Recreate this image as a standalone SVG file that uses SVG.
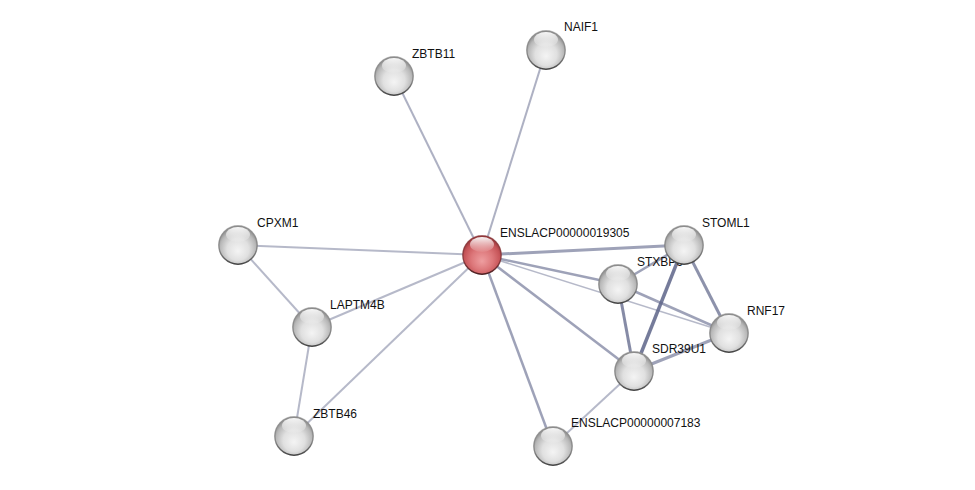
<svg xmlns="http://www.w3.org/2000/svg" width="975" height="490" viewBox="0 0 975 490">
<defs>
<radialGradient id="gBase" cx="50%" cy="58%" r="56%" fx="50%" fy="66%">
<stop offset="0" stop-color="#f4f4f4"/>
<stop offset="0.5" stop-color="#e0e0e0"/>
<stop offset="0.82" stop-color="#b8b8b8"/>
<stop offset="1" stop-color="#858585"/>
</radialGradient>
<radialGradient id="rBase" cx="50%" cy="58%" r="56%" fx="50%" fy="66%">
<stop offset="0" stop-color="#ee9ea0"/>
<stop offset="0.5" stop-color="#dc7679"/>
<stop offset="0.82" stop-color="#c65458"/>
<stop offset="1" stop-color="#923538"/>
</radialGradient>
<linearGradient id="hl" x1="0" y1="0" x2="0" y2="1">
<stop offset="0" stop-color="#fff" stop-opacity="0.95"/>
<stop offset="1" stop-color="#fff" stop-opacity="0.05"/>
</linearGradient>
<linearGradient id="rim" x1="0" y1="0" x2="0" y2="1">
<stop offset="0" stop-color="#9a9a9a" stop-opacity="0.5"/>
<stop offset="0.6" stop-color="#6a6a6a" stop-opacity="0.6"/>
<stop offset="1" stop-color="#333" stop-opacity="0.9"/>
</linearGradient>
<linearGradient id="rrim" x1="0" y1="0" x2="0" y2="1">
<stop offset="0" stop-color="#8a3a3d" stop-opacity="0.5"/>
<stop offset="0.6" stop-color="#6a2a2d" stop-opacity="0.6"/>
<stop offset="1" stop-color="#3a1416" stop-opacity="0.9"/>
</linearGradient>
<g id="ball">
<circle r="19.5" fill="url(#gBase)"/>
<circle r="19.2" fill="none" stroke="url(#rim)" stroke-width="1.4"/>
<ellipse cx="0" cy="-10.5" rx="12" ry="7.5" fill="url(#hl)"/>
</g>
<g id="redball">
<circle r="19.5" fill="url(#rBase)"/>
<circle r="19.2" fill="none" stroke="url(#rrim)" stroke-width="1.4"/>
<ellipse cx="0" cy="-10.5" rx="12" ry="7.5" fill="url(#hl)"/>
</g>
</defs>
<style>
.e{stroke:#5d6488;fill:none;stroke-linecap:butt}
.lbl{font-family:"Liberation Sans",Arial,sans-serif;font-size:12px;fill:#111}
</style>
<rect width="975" height="490" fill="#fff"/>
<g id="connectors">
<line class="e" x1="482" y1="255" x2="546" y2="50" stroke-width="2" stroke-opacity="0.5"/>
<line class="e" x1="482" y1="255" x2="394" y2="76" stroke-width="2" stroke-opacity="0.5"/>
<line class="e" x1="482" y1="255" x2="238" y2="245" stroke-width="2" stroke-opacity="0.45"/>
<line class="e" x1="482" y1="255" x2="312" y2="327" stroke-width="2" stroke-opacity="0.45"/>
<line class="e" x1="482" y1="255" x2="294" y2="436" stroke-width="2" stroke-opacity="0.45"/>
<line class="e" x1="482" y1="255" x2="553" y2="446" stroke-width="2.5" stroke-opacity="0.6"/>
<line class="e" x1="482" y1="255" x2="634" y2="371" stroke-width="2.5" stroke-opacity="0.6"/>
<line class="e" x1="482" y1="255" x2="684" y2="245" stroke-width="3" stroke-opacity="0.6"/>
<line class="e" x1="482" y1="255" x2="618" y2="284" stroke-width="2.5" stroke-opacity="0.6"/>
<line class="e" x1="482" y1="255" x2="729" y2="333" stroke-width="1.5" stroke-opacity="0.45"/>
<line class="e" x1="238" y1="245" x2="312" y2="327" stroke-width="2" stroke-opacity="0.45"/>
<line class="e" x1="312" y1="327" x2="294" y2="436" stroke-width="2" stroke-opacity="0.45"/>
<line class="e" x1="684" y1="245" x2="618" y2="284" stroke-width="2.5" stroke-opacity="0.6"/>
<line class="e" x1="684" y1="245" x2="634" y2="371" stroke-width="3.5" stroke-opacity="0.85"/>
<line class="e" x1="684" y1="245" x2="729" y2="333" stroke-width="3" stroke-opacity="0.7"/>
<line class="e" x1="618" y1="284" x2="634" y2="371" stroke-width="3" stroke-opacity="0.75"/>
<line class="e" x1="618" y1="284" x2="729" y2="333" stroke-width="2.5" stroke-opacity="0.6"/>
<line class="e" x1="634" y1="371" x2="729" y2="333" stroke-width="3" stroke-opacity="0.6"/>
<line class="e" x1="634" y1="371" x2="553" y2="446" stroke-width="2" stroke-opacity="0.45"/>
</g>
<g id="node-NAIF1"><use href="#ball" x="546" y="50"/><text class="lbl" x="564" y="31">NAIF1</text></g>
<g id="node-ZBTB11"><use href="#ball" x="394" y="76"/><text class="lbl" x="412" y="58">ZBTB11</text></g>
<g id="node-CPXM1"><use href="#ball" x="238" y="245"/><text class="lbl" x="257" y="227">CPXM1</text></g>
<g id="node-LAPTM4B"><use href="#ball" x="312" y="327"/><text class="lbl" x="330" y="309">LAPTM4B</text></g>
<g id="node-ZBTB46"><use href="#ball" x="294" y="436"/><text class="lbl" x="313" y="418">ZBTB46</text></g>
<g id="node-ENSLACP00000007183"><use href="#ball" x="553" y="446"/><text class="lbl" x="571" y="427">ENSLACP00000007183</text></g>
<g id="node-SDR39U1"><use href="#ball" x="634" y="371"/><text class="lbl" x="652" y="353">SDR39U1</text></g>
<g id="node-RNF17"><use href="#ball" x="729" y="333"/><text class="lbl" x="747" y="315">RNF17</text></g>
<g id="node-STXBP6"><use href="#ball" x="618" y="284"/><text class="lbl" x="637" y="266">STXBP6</text></g>
<g id="node-STOML1"><use href="#ball" x="684" y="245"/><text class="lbl" x="702" y="227">STOML1</text></g>
<g id="node-ENSLACP00000019305"><use href="#redball" x="482" y="255"/><text class="lbl" x="500" y="237">ENSLACP00000019305</text></g>
</svg>
